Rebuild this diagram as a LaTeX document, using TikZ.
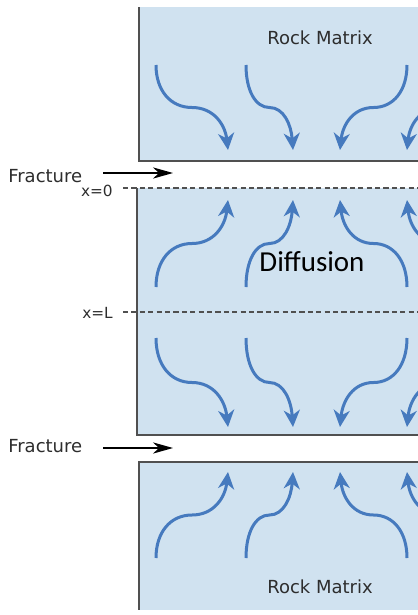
\documentclass[tikz,border=0pt]{standalone}
\usepackage{fontspec}
\setmainfont{DejaVu Sans}
\newfontfamily\calibri{Carlito}
\usetikzlibrary{arrows.meta,positioning}
\definecolor{rockfill}{RGB}{208,226,240}
\definecolor{flowblue}{RGB}{70,122,190}
\definecolor{edgegray}{RGB}{80,80,80}
\definecolor{labelgray}{RGB}{45,45,45}
% one diffusion arrow: start x, start y, tip x, tip y
\newcommand{\flowarrow}[4]{%
  \draw[flow] (#1,#2) .. controls (#1,{#2+0.3*(#4-#2)}) and ({#1+0.2*(#3-#1)},{(#2+#4)/2}) .. ({(#1+#3)/2},{(#2+#4)/2})
    .. controls ({#1+0.8*(#3-#1)},{(#2+#4)/2}) and ({#3-0.04*(#3-#1)},{#4-0.3*(#4-#2)}) .. (#3,#4);}

\begin{document}
\begin{tikzpicture}[x=0.25mm,y=-0.25mm, font=\fontsize{12.8}{15}\selectfont,
  rock/.style={fill=rockfill},
  edge/.style={draw=edgegray,line width=0.5mm},
  level/.style={draw=edgegray,line width=0.4mm,dash pattern=on 1.3mm off 0.8mm},
  flow/.style={draw=flowblue,line width=0.75mm,-{Stealth[length=4.2mm,width=4mm,inset=1.3mm]}},
  feed/.style={draw=black,line width=0.35mm,-{Stealth[length=5mm,width=2.8mm,inset=1.5mm]}},
  lbl/.style={text=labelgray,inner sep=0pt}]
  \useasboundingbox (0,0) rectangle (418,615);
  \clip (0,0) rectangle (418,615);
  % rock blocks, cut off at the right edge
  \fill[rock] (139,7) rectangle (430,161);
  \draw[edge] (139,7) -- (139,161) -- (430,161);
  \fill[rock] (137,188) rectangle (430,435);
  \draw[edge] (137,188) -- (137,435) -- (430,435);
  \fill[rock] (139,462) rectangle (430,610);
  \draw[edge] (430,462) -- (139,462) -- (139,610);
  % boundaries x=0 and x=L
  \coordinate (x0) at (123,188);
  \coordinate (x0end) at (420,188);
  \coordinate (xL) at (123,312);
  \coordinate (xLend) at (420,312);
  \draw[level] (x0) -- (x0end);
  \draw[level] (xL) -- (xLend);
  \node[lbl,anchor=east,font=\fontsize{10.9}{12}\selectfont] (lx0) at (113,191) {x=0};
  \node[lbl,anchor=east,font=\fontsize{10.9}{12}\selectfont] (lxL) at (113,313) {x=L};
  % fractures
  \coordinate (f1a) at (103,173);
  \coordinate (f1b) at (173,173);
  \coordinate (f2a) at (103,448);
  \coordinate (f2b) at (173,448);
  \draw[feed] (f1a) -- (f1b);
  \draw[feed] (f2a) -- (f2b);
  \node[lbl,anchor=west] (frac1) at (8,176) {Fracture};
  \node[lbl,anchor=west] (frac2) at (8,446) {Fracture};
  % labels inside the rock
  \node[lbl] (rmtop) at (320,38) {Rock Matrix};
  \node[lbl] (rmbot) at (320,587) {Rock Matrix};
  \node[inner sep=0pt,font=\calibri\fontsize{20.6}{24}\selectfont] (diff) at (312,262) {Diffusion};
  % diffusion arrows
  \foreach \ya/\yb in {65/150, 287/200, 338/427, 558/472} {
    \flowarrow{156}{\ya}{228}{\yb}
    \flowarrow{246}{\ya}{293}{\yb}
    \flowarrow{407}{\ya}{340}{\yb}
    \flowarrow{475}{\ya}{407}{\yb}
  }
\end{tikzpicture}
\end{document}
